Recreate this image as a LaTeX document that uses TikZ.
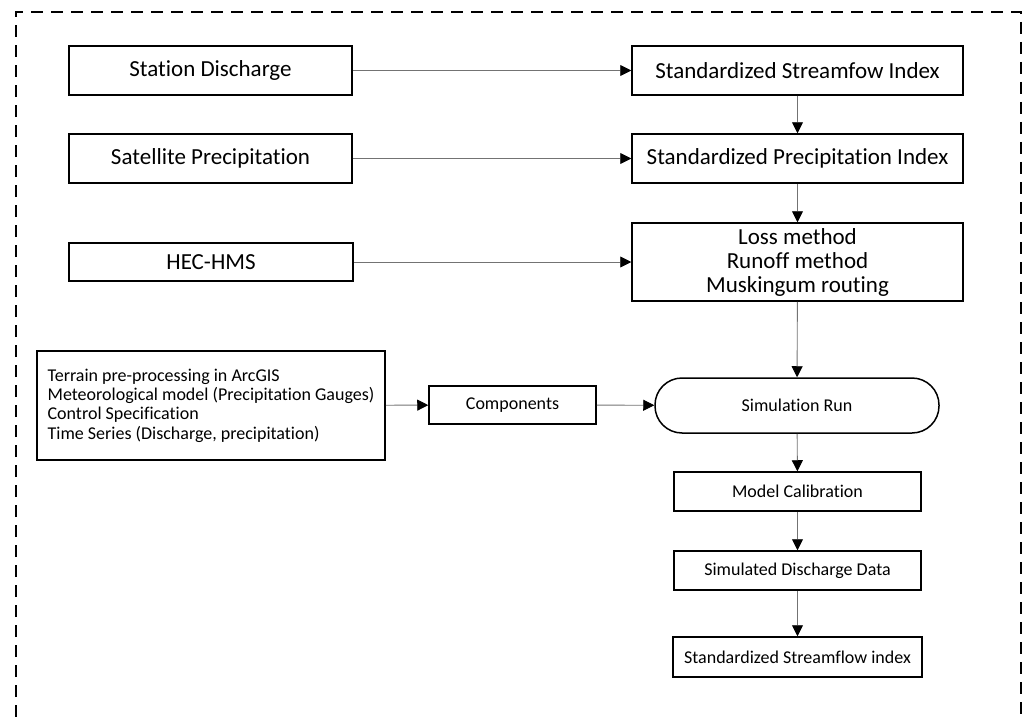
\documentclass[tikz,border=0pt]{standalone}
\usepackage{fontspec}
\setmainfont{Carlito}[Ligatures=NoCommon]
\usetikzlibrary{arrows.meta,positioning}
\tikzset{
  bigbox/.style={rectangle, draw, line width=1.5pt, align=center,
                 font=\fontsize{23}{24}\selectfont, minimum height=49pt,
                 inner sep=2pt, fill=white},
  smallbox/.style={rectangle, draw, line width=1.5pt, align=center,
                   font=\fontsize{18}{19.3}\selectfont, minimum height=39pt,
                   inner sep=2pt, fill=white},
  runbox/.style={rectangle, rounded corners=27pt, draw, line width=1.5pt,
                 font=\fontsize{18}{19.3}\selectfont, minimum width=284pt,
                 minimum height=55pt, fill=white},
  arrow/.style={-{Triangle[length=11pt, width=11pt, color=black]},
                draw=black!55, line width=0.9pt},
  frame/.style={dash pattern=on 12pt off 8pt, line width=1.5pt}
}

\begin{document}
\begin{tikzpicture}[x=1pt, y=-1pt]
\useasboundingbox (0,0) rectangle (1026,717);
\draw[frame] (16,717) -- (16,12) -- (1021,12) -- (1021,717);
\node[bigbox, minimum width=283pt] (stat) at (210.5,70.5) {Station Discharge};
\node[bigbox, minimum width=331pt] (ssi) at (797.5,70.5) {Standardized Streamfow Index};
\node[bigbox, minimum width=283pt] (sat) at (210.5,158.5) {Satellite Precipitation};
\node[bigbox, minimum width=331pt] (spi) at (797.5,158.5) {Standardized Precipitation Index};
\node[bigbox, minimum width=284pt, minimum height=38pt] (hec) at (211,262) {HEC-HMS};
\node[bigbox, minimum width=331pt, minimum height=78pt] (meth) at (797.5,262) {Loss method\\Runoff method\\Muskingum routing};
\node[smallbox, align=left, minimum width=348pt, minimum height=109pt] (terr) at (211,405.5)
  {Terrain pre-processing in ArcGIS\\Meteorological model (Precipitation Gauges)\\Control Specification\\Time Series (Discharge, precipitation)};
\node[smallbox, minimum width=167pt, minimum height=38pt] (comp) at (512.5,405) {Components};
\node[runbox] (run) at (797,405.5) {Simulation Run};
\node[smallbox, minimum width=247pt] (calib) at (797.5,491.5) {Model Calibration};
\node[smallbox, minimum width=247pt] (simq) at (797.5,570.5) {Simulated Discharge Data};
\node[smallbox, minimum width=249pt, minimum height=40pt] (ssfi) at (797.5,657) {Standardized Streamflow index};
\draw[arrow] (stat) -- (ssi);
\draw[arrow] (sat) -- (spi);
\draw[arrow] (hec) -- (meth);
\draw[arrow] (ssi) -- (spi);
\draw[arrow] (spi) -- (meth);
\draw[arrow] (meth) -- (run);
\draw[arrow] (terr) -- (comp);
\draw[arrow] (comp) -- (run);
\draw[arrow] (run) -- (calib);
\draw[arrow] (calib) -- (simq);
\draw[arrow] (simq) -- (ssfi);
\end{tikzpicture}
\end{document}
